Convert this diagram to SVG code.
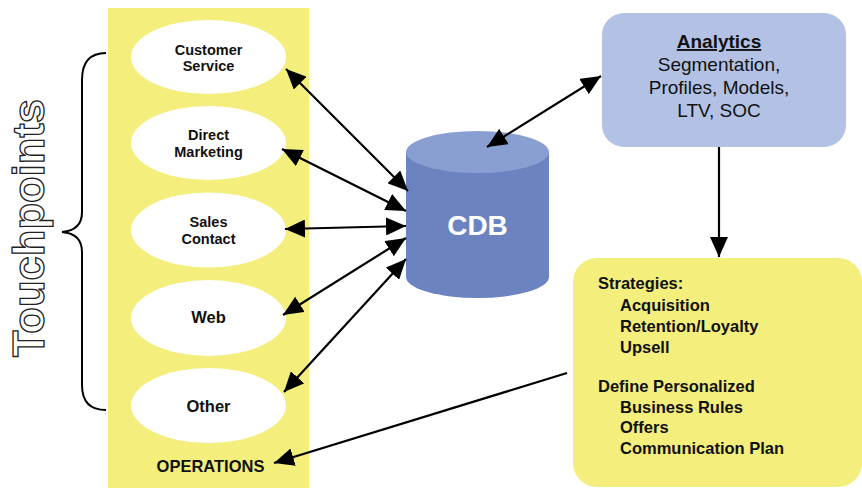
<svg xmlns="http://www.w3.org/2000/svg" width="862" height="489" viewBox="0 0 862 489">
  <defs>
    <style>
      .lbl { font-family: "Liberation Sans", Arial, sans-serif; font-weight: bold; fill: #111; text-anchor: middle; }
      .l2 { font-size: 14.5px; }
      .l1 { font-size: 16.5px; }
      .oval { fill: #ffffff; }
      .conn { stroke: #000; stroke-width: 2.2; fill: none; }
      .strat { font-family: "Liberation Sans", Arial, sans-serif; font-weight: bold; font-size: 16.5px; fill: #111; }
      .ana { font-family: "Liberation Sans", Arial, sans-serif; font-size: 19px; fill: #111; text-anchor: middle; }
    </style>
    <marker id="arrow" viewBox="0 0 20 18" refX="20" refY="9" markerWidth="20" markerHeight="18" markerUnits="userSpaceOnUse" orient="auto-start-reverse">
      <path d="M0,0 L20,9 L0,18 Z" fill="#000"/>
    </marker>
  </defs>

  <rect width="862" height="489" fill="#ffffff"/>

  <!-- Touchpoints label and brace -->
  <g id="touchpoints">
    <text transform="translate(44,357) rotate(-90)" textLength="258" lengthAdjust="spacingAndGlyphs" font-family="Liberation Sans, Arial, sans-serif" font-weight="bold" font-size="44" fill="#ffffff" stroke="#222" stroke-width="1.3">Touchpoints</text>
    <path d="M106,53 C90,53 82,62 82,80 L82,212 C82,225 74,231 62,232 C74,233 82,239 82,252 L82,385 C82,402 90,410 106,410" fill="none" stroke="#000" stroke-width="2"/>
  </g>

  <!-- Operations column -->
  <g id="operations">
    <rect x="108" y="8" width="201" height="480" fill="#f4ee7c"/>
    <text class="lbl l1" x="210.5" y="472">OPERATIONS</text>
  </g>

  <g id="customer-service">
    <ellipse class="oval" cx="208.5" cy="57" rx="77.5" ry="37"/>
    <text class="lbl l2" x="208.5" y="55">Customer</text>
    <text class="lbl l2" x="208.5" y="71">Service</text>
  </g>
  <g id="direct-marketing">
    <ellipse class="oval" cx="208.5" cy="143" rx="77.5" ry="37"/>
    <text class="lbl l2" x="208.5" y="140">Direct</text>
    <text class="lbl l2" x="208.5" y="157">Marketing</text>
  </g>
  <g id="sales-contact">
    <ellipse class="oval" cx="208.5" cy="230" rx="77.5" ry="37.5"/>
    <text class="lbl l2" x="208.5" y="227">Sales</text>
    <text class="lbl l2" x="208.5" y="244">Contact</text>
  </g>
  <g id="web">
    <ellipse class="oval" cx="208.5" cy="318" rx="77.5" ry="38"/>
    <text class="lbl l1" x="208.5" y="323">Web</text>
  </g>
  <g id="other">
    <ellipse class="oval" cx="208.5" cy="405.5" rx="77.5" ry="37.5"/>
    <text class="lbl l1" x="208.5" y="412">Other</text>
  </g>

  <!-- Customer database cylinder -->
  <g id="cdb">
    <path d="M406,152 L406,277 A71.5,21 0 0 0 549,277 L549,152 Z" fill="#6b84c1"/>
    <ellipse cx="477.5" cy="152" rx="71.5" ry="21" fill="#8a9fd1"/>
    <text x="477.5" y="235" font-family="Liberation Sans, Arial, sans-serif" font-weight="bold" font-size="28" fill="#ffffff" text-anchor="middle">CDB</text>
  </g>

  <!-- Analytics -->
  <g id="analytics">
    <rect x="602" y="13" width="244" height="134" rx="22" fill="#b3c2e4"/>
    <text class="ana" x="719" y="48" font-weight="bold" text-decoration="underline">Analytics</text>
    <text class="ana" x="719" y="71">Segmentation,</text>
    <text class="ana" x="719" y="94">Profiles, Models,</text>
    <text class="ana" x="719" y="117">LTV, SOC</text>
  </g>

  <!-- Strategies -->
  <g id="strategies">
    <rect x="573" y="258" width="289" height="229" rx="24" fill="#f4ee7c"/>
    <text class="strat" x="598" y="289">Strategies:</text>
    <text class="strat" x="620" y="311">Acquisition</text>
    <text class="strat" x="620" y="332">Retention/Loyalty</text>
    <text class="strat" x="620" y="353">Upsell</text>
    <text class="strat" x="598" y="392">Define Personalized</text>
    <text class="strat" x="620" y="413">Business Rules</text>
    <text class="strat" x="620" y="433">Offers</text>
    <text class="strat" x="620" y="454">Communication Plan</text>
  </g>

  <!-- Connectors -->
  <g id="connectors">
    <line class="conn" x1="286" y1="69" x2="408" y2="191" marker-start="url(#arrow)" marker-end="url(#arrow)"/>
    <line class="conn" x1="282" y1="149" x2="406" y2="211" marker-start="url(#arrow)" marker-end="url(#arrow)"/>
    <line class="conn" x1="285" y1="229" x2="406" y2="226" marker-start="url(#arrow)" marker-end="url(#arrow)"/>
    <line class="conn" x1="283" y1="315" x2="406" y2="238" marker-start="url(#arrow)" marker-end="url(#arrow)"/>
    <line class="conn" x1="284" y1="392" x2="406" y2="259" marker-start="url(#arrow)" marker-end="url(#arrow)"/>
    <line class="conn" x1="487" y1="147" x2="601" y2="76" marker-start="url(#arrow)" marker-end="url(#arrow)"/>
    <line class="conn" x1="719" y1="147" x2="719" y2="257" marker-end="url(#arrow)"/>
    <line class="conn" x1="567" y1="373" x2="274" y2="463" marker-end="url(#arrow)"/>
  </g>
</svg>
